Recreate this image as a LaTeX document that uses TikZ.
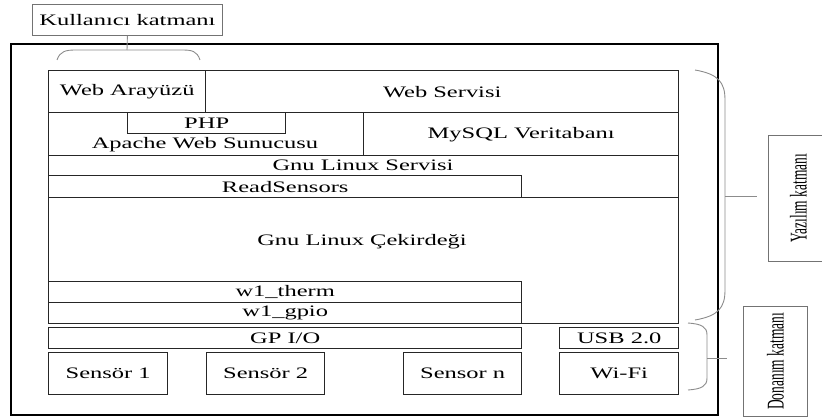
\documentclass[tikz,border=0pt]{standalone}
\usepackage{fontspec}
\setmainfont{Liberation Serif}
\newcommand{\wtext}[1]{\scalebox{1.53}[1]{#1}}
\newcommand{\sidetext}[1]{\rotatebox{90}{\scalebox{0.56}[1]{\fontsize{24}{26}\selectfont #1}}}
\begin{document}
\begin{tikzpicture}[x=1pt, y=-1pt,
		blk/.style={draw=black!85, line width=1.4pt, anchor=north west, inner sep=0pt, font=\fontsize{16}{18}\selectfont, text=black},
		tag/.style={font=\fontsize{16}{18}\selectfont, text=black, inner sep=0pt},
		side/.style={draw=black!55, line width=0.8pt, anchor=north west, inner sep=0pt, font=\fontsize{16}{18}\selectfont, text=black},
		brc/.style={draw=black!45, line width=0.9pt}]
	\useasboundingbox (0,0) rectangle (822,417);
	
	\node[draw, line width=1.8pt, anchor=north west, inner sep=0pt, minimum width=707pt, minimum height=371pt] (frame) at (10,43) {};
	
	% user layer
	\node[side, minimum width=190pt, minimum height=31pt] (kul) at (32,4) {\wtext{Kullanıcı katmanı}};
	\coordinate (kultip) at (127,50);
	\draw[brc] (kul.south) -- (kultip);
	\draw[brc] (57,60) .. controls (60,51) and (66,50) .. (76,50) -- (182,50) .. controls (192,50) and (197,51) .. (200,60);
	
	% software stack
	\node[blk, minimum width=157pt, minimum height=42pt] (webui) at (48,70) {\wtext{Web Arayüzü}};
	\node[blk, minimum width=473pt, minimum height=42pt] (websrv) at (205,70) {\wtext{Web Servisi}};
	\node[blk, minimum width=315pt, minimum height=43pt] (apache) at (48,112) {};
	\node[blk, minimum width=315pt, minimum height=43pt] (mysql) at (363,112) {\wtext{MySQL Veritabanı}};
	\node[blk, minimum width=158pt, minimum height=21pt] (php) at (127,112) {\wtext{PHP}};
	\node[tag] (apachetxt) at (205,145) {\wtext{Apache Web Sunucusu}};
	
	\node[blk, minimum width=630pt, minimum height=42pt] (glsrv) at (48,155) {};
	\node[tag] (glsrvtxt) at (363,165) {\wtext{Gnu Linux Servisi}};
	\node[blk, minimum width=473pt, minimum height=22pt] (reads) at (48,175) {\wtext{ReadSensors}};
	
	\node[blk, minimum width=630pt, minimum height=126pt] (kernel) at (48,197) {};
	\node[tag] (kerneltxt) at (362,242) {\wtext{Gnu Linux Çekirdeği}};
	\node[blk, minimum width=473pt, minimum height=21pt] (therm) at (48,281) {\wtext{w1\_therm}};
	\node[blk, minimum width=473pt, minimum height=21pt] (gpio) at (48,302) {\wtext{w1\_gpio}};
	
	% hardware
	\node[blk, minimum width=473pt, minimum height=21pt] (gpioport) at (48,327) {\wtext{GP I/O}};
	\node[blk, minimum width=119pt, minimum height=21pt] (usb) at (559,327) {\wtext{USB 2.0}};
	\node[blk, minimum width=119pt, minimum height=42pt] (sens1) at (48,352) {\wtext{Sensör 1}};
	\node[blk, minimum width=118pt, minimum height=42pt] (sens2) at (206,352) {\wtext{Sensör 2}};
	\node[blk, minimum width=118pt, minimum height=42pt] (sensn) at (403,352) {\wtext{Sensor n}};
	\node[blk, minimum width=119pt, minimum height=42pt] (wifi) at (559,352) {\wtext{Wi-Fi}};
	
	% side layers
	\node[side, minimum width=60pt, minimum height=126pt] (yaz) at (768,135) {\sidetext{Yazılım katmanı}};
	\draw[brc] (695,70) .. controls (718,74) and (725,82) .. (725,100) -- (725,290) .. controls (725,308) and (718,316) .. (695,320);
	\coordinate (yaztip) at (725,196);
	\coordinate (yazend) at (757,196);
	\draw[brc] (yaztip) -- (yazend);
	
	\node[side, minimum width=64pt, minimum height=110pt] (don) at (743,306) {\sidetext{Donanım katmanı}};
	\draw[brc] (688,323) .. controls (702,324) and (707,327) .. (707,335) -- (707,378) .. controls (707,386) and (702,389) .. (688,390);
	\coordinate (dontip) at (707,358);
	\coordinate (donend) at (727,358);
	\draw[brc] (dontip) -- (donend);
\end{tikzpicture}
\end{document}
